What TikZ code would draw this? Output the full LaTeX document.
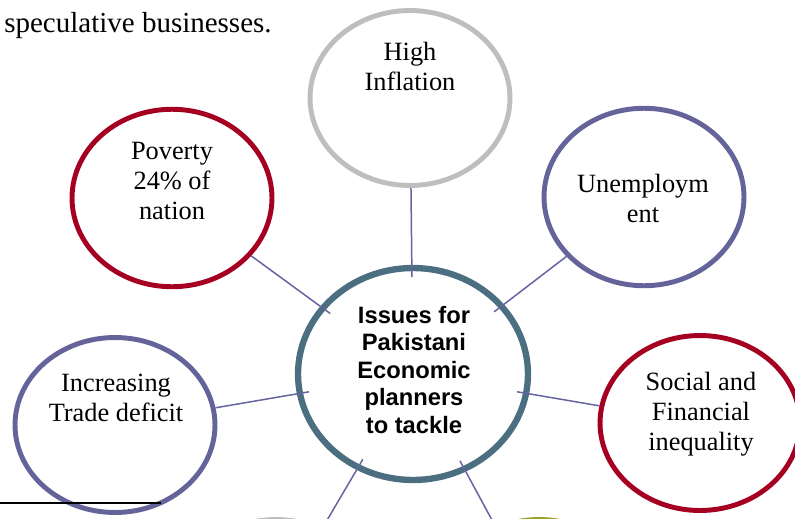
\documentclass[tikz,border=0pt]{standalone}
\usepackage{fontspec}
\setmainfont{Liberation Serif}
\newfontfamily\hubfont{Liberation Sans}
\usetikzlibrary{shapes.geometric}
\definecolor{ringred}{RGB}{165,0,33}
\definecolor{ringpurple}{RGB}{100,100,155}
\definecolor{ringgray}{RGB}{190,190,190}
\definecolor{ringteal}{RGB}{75,110,128}
\definecolor{ringolive}{RGB}{160,160,40}
\definecolor{spokeblue}{RGB}{100,100,160}
\tikzset{
  ring/.style={ellipse, draw=#1, line width=2.8pt, fill=white, inner sep=0pt,
    minimum width=4cm, minimum height=3.55cm},
  issue/.style={anchor=north, inner sep=0pt, align=center,
    font=\fontsize{15}{17}\selectfont},
  spoke/.style={draw=spokeblue, line width=0.85pt}
}

\begin{document}
\begin{tikzpicture}[x=0.02cm, y=-0.02cm]
  \useasboundingbox (0,0) rectangle (795,518);

  \node (tail) [anchor=base west, inner sep=0pt, font=\fontsize{16.5}{19}\selectfont]
    at (4,32) {speculative businesses.};

  % outer issues
  \node (inflation) [ring=ringgray, minimum height=3.5cm] at (410,98) {};
  \node (poverty) [ring=ringred] at (172,198) {};
  \node (unemp) [ring=ringpurple] at (644,197) {};
  \node (trade) [ring=ringpurple, minimum height=3.5cm] at (115,425) {};
  \node (social) [ring=ringred, minimum height=3.5cm] at (700,423) {};
  \node (lowleft) [ring=ringgray, minimum height=3.5cm] at (276,607) {};
  \node (lowright) [ring=ringolive, minimum height=3.5cm] at (539,607) {};

  \node (hub) [ring=ringteal, line width=3.6pt, minimum width=4.6cm,
    minimum height=4.24cm] at (413,374) {};

  \foreach \n in {inflation,poverty,unemp,trade,social,lowleft,lowright} {
    \draw [spoke, shorten <=-7pt] (hub) -- (\n);
  }

  \node (inflationtext) [issue] at (410,42) {High\\Inflation};
  \node (povertytext) [issue] at (172,142) {Poverty\\24\% of\\nation};
  \node (unemptext) [issue] at (643,174) {Unemploym\\ent};
  \node (tradetext) [issue] at (116,374) {Increasing\\Trade deficit};
  \node (socialtext) [issue] at (701,372) {Social and\\Financial\\inequality};
  \node (hubtext) [issue, font=\hubfont\bfseries\fontsize{13.5}{15.6}\selectfont]
    at (414,306) {Issues for\\Pakistani\\Economic\\planners\\to tackle};

  % footnote rule
  \draw [line width=0.75pt] (0,503) -- (161,503);
\end{tikzpicture}
\end{document}
